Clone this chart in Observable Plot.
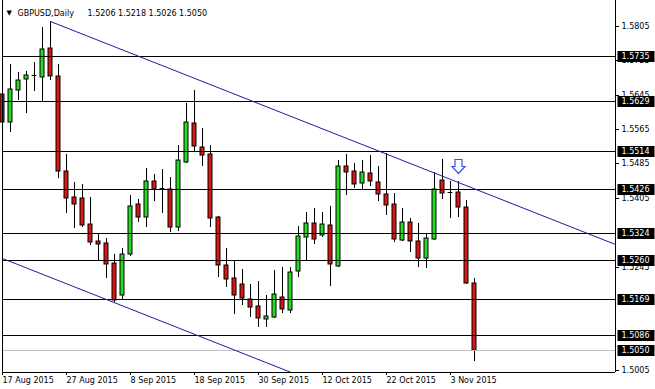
<!DOCTYPE html>
<html><head><meta charset="utf-8">
<script src="https://cdn.jsdelivr.net/npm/d3@7"></script>
<script src="https://cdn.jsdelivr.net/npm/@observablehq/plot@0.6"></script>
<style>body{margin:0;background:#fff}</style>
</head><body><div id="chart"></div>
<script>
const symbolName = "GBPUSD,Daily";
const dates = [
"2015-08-17","2015-08-18","2015-08-19","2015-08-20","2015-08-21","2015-08-24","2015-08-25","2015-08-26","2015-08-27","2015-08-28",
"2015-08-31","2015-09-01","2015-09-02","2015-09-03","2015-09-04","2015-09-07","2015-09-08","2015-09-09","2015-09-10","2015-09-11",
"2015-09-14","2015-09-15","2015-09-16","2015-09-17","2015-09-18","2015-09-21","2015-09-22","2015-09-23","2015-09-24","2015-09-25",
"2015-09-28","2015-09-29","2015-09-30","2015-10-01","2015-10-02","2015-10-05","2015-10-06","2015-10-07","2015-10-08","2015-10-09",
"2015-10-12","2015-10-13","2015-10-14","2015-10-15","2015-10-16","2015-10-19","2015-10-20","2015-10-21","2015-10-22","2015-10-23",
"2015-10-26","2015-10-27","2015-10-28","2015-10-29","2015-10-30","2015-11-02","2015-11-03","2015-11-04","2015-11-05","2015-11-06"];
const open = [1.5646,1.5582,1.5655,1.5681,1.5690,1.5685,1.5753,1.5688,1.5468,1.5406,
1.5404,1.5344,1.5305,1.5299,1.5253,1.5179,1.5274,1.5390,1.5360,1.5443,
1.5427,1.5425,1.5338,1.5489,1.5578,1.5523,1.5507,1.5361,1.5249,1.5218,
1.5205,1.5169,1.5153,1.5123,1.5127,1.5174,1.5144,1.5234,1.5313,1.5346,
1.5318,1.5341,1.5247,1.5479,1.5467,1.5439,1.5462,1.5441,1.5413,1.5391,
1.5307,1.5349,1.5305,1.5264,1.5309,1.5447,1.5419,1.5419,1.5383,1.5206];
const high = [1.5687,1.5716,1.5697,1.5700,1.5720,1.5802,1.5816,1.5717,1.5506,1.5441,
1.5437,1.5407,1.5323,1.5311,1.5274,1.5288,1.5412,1.5402,1.5474,1.5461,
1.5471,1.5454,1.5527,1.5626,1.5656,1.5567,1.5527,1.5363,1.5288,1.5259,
1.5239,1.5205,1.5212,1.5179,1.5237,1.5244,1.5244,1.5340,1.5371,1.5381,
1.5371,1.5386,1.5493,1.5507,1.5485,1.5493,1.5505,1.5478,1.5509,1.5416,
1.5381,1.5357,1.5346,1.5320,1.5464,1.5495,1.5445,1.5443,1.5400,1.5218];
const low = [1.5576,1.5559,1.5633,1.5603,1.5654,1.5627,1.5678,1.5450,1.5369,1.5334,
1.5337,1.5295,1.5260,1.5218,1.5162,1.5170,1.5270,1.5348,1.5338,1.5398,
1.5370,1.5326,1.5329,1.5485,1.5515,1.5478,1.5338,1.5220,1.5198,1.5134,
1.5155,1.5127,1.5104,1.5105,1.5126,1.5137,1.5138,1.5222,1.5260,1.5298,
1.5315,1.5200,1.5245,1.5412,1.5427,1.5425,1.5433,1.5398,1.5365,1.5303,
1.5305,1.5280,1.5245,1.5241,1.5307,1.5403,1.5357,1.5360,1.5205,1.5026];
const close = [1.5581,1.5658,1.5678,1.5690,1.5690,1.5751,1.5688,1.5468,1.5404,1.5390,
1.5342,1.5303,1.5298,1.5250,1.5167,1.5274,1.5387,1.5360,1.5444,1.5426,
1.5427,1.5338,1.5493,1.5581,1.5526,1.5504,1.5357,1.5248,1.5217,1.5178,
1.5171,1.5152,1.5125,1.5130,1.5181,1.5147,1.5233,1.5316,1.5346,1.5309,
1.5344,1.5250,1.5479,1.5466,1.5437,1.5465,1.5443,1.5413,1.5388,1.5310,
1.5349,1.5304,1.5266,1.5311,1.5425,1.5416,1.5419,1.5383,1.5206,1.5050];
const levels = [1.5735,1.5629,1.5514,1.5426,1.5324,1.5260,1.5169,1.5086];
const bidPrice = [1.5050];
// price ticks of the right scale (those fully covered by level tags are not drawn)
const yTicks = [1.5005,1.5245,1.5405,1.5485,1.5565,1.5645,1.5725,1.5805];
const xTickLabels = ["17 Aug 2015","27 Aug 2015","8 Sep 2015","18 Sep 2015","30 Sep 2015","12 Oct 2015","22 Oct 2015","3 Nov 2015"];
const upperTrend = [[6,1.5816],[76.625,1.5298]];
const lowerTrend = [[0,1.5265],[36.1,1.5000]];
const arrowMark = [[57,1.5480]];

const xDomain = [0, 76.625];
const yDomain = [1.5000, 1.5865];
const bull = "#22dd22", bear = "#dc1414", trendColor = "#1c1c9c";

const fmtDate = d3.utcFormat("%-d %b %Y");
const candles = dates.map((d,i)=>({i, date:new Date(d), open:open[i], high:high[i], low:low[i], close:close[i]}));
const tickIdx = candles.filter(c=>xTickLabels.includes(fmtDate(c.date))).map(c=>c.i);
const last = candles[candles.length-1];
const ohlcText = [last.open,last.high,last.low,last.close].map(v=>v.toFixed(4)).join(" ");
const bodies = candles.filter(c=>c.open!==c.close);
const dojis = candles.filter(c=>c.open===c.close);

const arrowSymbol = {draw(ctx){ctx.moveTo(-3.5,-7);ctx.lineTo(3.5,-7);ctx.lineTo(3.5,0);ctx.lineTo(6.5,0);ctx.lineTo(0,7);ctx.lineTo(-6.5,0);ctx.lineTo(-3.5,0);ctx.closePath();}};
const boxSymbol = {draw(ctx){ctx.rect(-18.5,-5.5,37,11);}};

const chart = Plot.plot({
  width:655, height:389, marginLeft:2, marginRight:40, marginTop:0, marginBottom:17,
  x:{domain:xDomain},
  y:{domain:yDomain, round:true},
  style:{fontFamily:"DejaVu Sans", fontSize:"8px", background:"white", color:"black", overflow:"visible"},
  marks:[
    Plot.ruleX(candles, {x:"i", y1:"low", y2:"high", stroke:"black"}),
    Plot.rect(bodies, {x1:d=>d.i-0.25, x2:d=>d.i+0.25, y1:"open", y2:"close", fill:d=>d.close>d.open?bull:bear, stroke:"black", inset:0}),
    Plot.ruleY(dojis, {y:"open", x1:d=>d.i-0.3, x2:d=>d.i+0.3, stroke:"black"}),
    Plot.ruleY(bidPrice, {stroke:"#c0c0c0"}),
    Plot.ruleY(levels, {stroke:"black"}),
    Plot.line(upperTrend, {x:d=>d[0], y:d=>d[1], stroke:trendColor, strokeWidth:1}),
    Plot.line(lowerTrend, {x:d=>d[0], y:d=>d[1], stroke:trendColor, strokeWidth:1}),
    Plot.dot(arrowMark, {x:d=>d[0], y:d=>d[1], symbol:arrowSymbol, fill:"white", stroke:"#3355dd", strokeWidth:1.2}),
    Plot.ruleX([xDomain[0], xDomain[1]], {stroke:"black"}),
    Plot.ruleY([yDomain[0]], {stroke:"black"}),
    Plot.axisX({ticks:tickIdx, tickFormat:i=>fmtDate(candles[i].date), tickSize:3, tickPadding:2, textAnchor:"start", label:null}),
    Plot.axisY({anchor:"right", ticks:yTicks, tickFormat:d=>d.toFixed(4), tickSize:3, tickPadding:3, label:null}),
    Plot.dot(levels.concat(bidPrice), {x:()=>xDomain[1], y:d=>d, symbol:boxSymbol, fill:"black", stroke:"none", dx:20.5}),
    Plot.text(levels.concat(bidPrice), {x:()=>xDomain[1], y:d=>d, text:d=>d.toFixed(4), textAnchor:"start", dx:6, fill:"white"}),
    Plot.text(["\u25BC"], {frameAnchor:"top-left", dx:4, dy:10, text:d=>d, fontSize:7, textAnchor:"start"}),
    Plot.text([symbolName], {frameAnchor:"top-left", dx:15, dy:9.5, text:d=>d, textAnchor:"start"}),
    Plot.text([ohlcText], {frameAnchor:"top-left", dx:85, dy:9.5, text:d=>d, textAnchor:"start"})
  ]
});
document.getElementById("chart").appendChild(chart);
</script>
</body></html>
